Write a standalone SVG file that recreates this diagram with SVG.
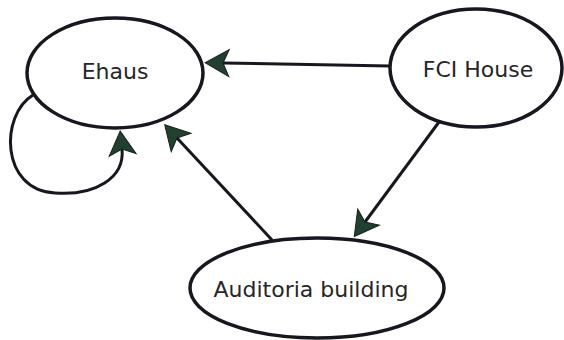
<svg xmlns="http://www.w3.org/2000/svg" width="564" height="340" viewBox="0 0 564 340">
<style>
.node ellipse{fill:#fff;stroke:#17171f;stroke-width:3.5}
.node text{font-family:"DejaVu Sans",Verdana,sans-serif;font-size:22px;fill:#262626;text-anchor:middle}
.edge{fill:none;stroke:#17171f;stroke-width:3}
</style>
<defs>
<marker id="ah" markerUnits="userSpaceOnUse" markerWidth="40" markerHeight="40" viewBox="-10 -20 40 40" refX="0" refY="0" orient="auto">
<path d="M18,0 L-6,-13.5 L0,0 L-6,13.5 Z" fill="#21402f" stroke="#142219" stroke-width="1"/>
</marker>
</defs>
<rect width="564" height="340" fill="#fff"/>
<g id="connectors">
<path class="edge" d="M390,66 L223,63" marker-end="url(#ah)"/>
<path class="edge" d="M272,240 L177,138" marker-end="url(#ah)"/>
<path class="edge" d="M439,122 L365,222" marker-end="url(#ah)"/>
<path class="edge" d="M33,95 C0,115 0,190 55,193 C95,196 125,178 122,149" marker-end="url(#ah)"/>
</g>
<g id="ehaus" class="node">
<ellipse cx="115" cy="73" rx="88" ry="55"/>
<text x="115" y="79">Ehaus</text>
</g>
<g id="fci" class="node">
<ellipse cx="476" cy="68" rx="86" ry="59"/>
<text x="478" y="77">FCI House</text>
</g>
<g id="auditoria" class="node">
<ellipse cx="317" cy="288" rx="127" ry="50"/>
<text x="311" y="297">Auditoria building</text>
</g>
</svg>
